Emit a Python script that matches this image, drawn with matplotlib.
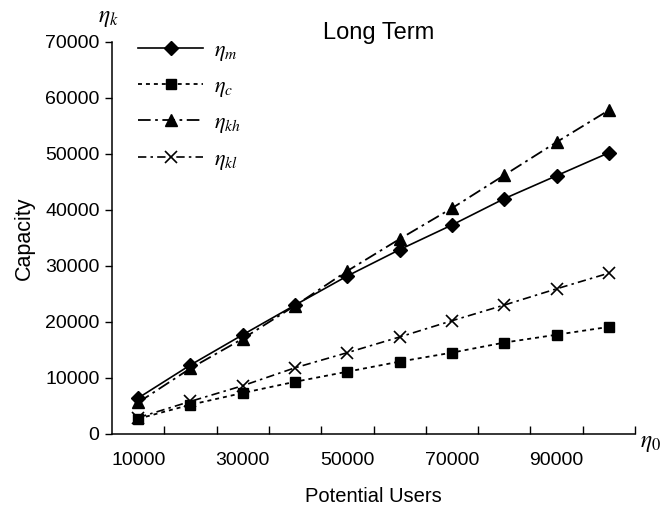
import numpy as np
import matplotlib.pyplot as plt

plt.rcParams['font.family'] = ['Liberation Sans', 'DejaVu Sans']
plt.rcParams['mathtext.fontset'] = 'stix'

# Data
users = [10000, 20000, 30000, 40000, 50000, 60000, 70000, 80000, 90000, 100000]
eta_m = [6400, 12300, 17700, 23000, 28200, 32900, 37300, 42000, 46100, 50200]
eta_c = [2700, 5200, 7300, 9300, 11100, 12900, 14500, 16300, 17700, 19100]
eta_kh = [5600, 11700, 17000, 22900, 29100, 34800, 40300, 46200, 52100, 57800]
eta_kl = [2900, 5800, 8600, 11800, 14500, 17300, 20200, 23000, 25900, 28700]

x = np.arange(len(users))

fig = plt.figure(figsize=(6.67, 5.11), dpi=100)
ax = fig.add_axes([0.168, 0.151, 0.784, 0.767])

ax.plot(x, eta_m, color='black', lw=1.2, marker='D', ms=7, label=r'$\eta_m$')
ax.plot(x, eta_c, color='black', lw=1.3, ls=(0, (2.2, 2.2)), marker='s', ms=7, label=r'$\eta_c$')
ax.plot(x, eta_kh, color='black', lw=1.3, ls=(0, (7, 2.5, 1.5, 2.5)), marker='^', ms=8, label=r'$\eta_{kh}$')
ax.plot(x, eta_kl, color='black', lw=1.2, ls=(0, (5, 2.5, 1.5, 2.5)), marker='x', ms=8.5, mew=1.2, label=r'$\eta_{kl}$')

ax.set_xlim(-0.5, 9.5)
ax.set_ylim(0, 70000)
ax.set_yticks(np.arange(0, 70001, 10000))
ax.tick_params(axis='y', direction='out', length=5, width=1, pad=4, labelsize=14)

# tick marks between categories, labels on every other category
ax.set_xticks(np.arange(0.5, 10, 1))
ax.set_xticklabels([])
ax.tick_params(axis='x', which='major', direction='in', length=6, width=1)
ax.set_xticks(x[::2], minor=True)
ax.set_xticklabels([str(u) for u in users[::2]], minor=True)
ax.tick_params(axis='x', which='minor', length=0, pad=13, labelsize=14)

for s in ['top', 'right']:
    ax.spines[s].set_visible(False)
for s in ['left', 'bottom']:
    ax.spines[s].set_linewidth(1.1)

ax.set_ylabel('Capacity', fontsize=15.5, labelpad=7)
ax.set_xlabel('Potential Users', fontsize=14.5, labelpad=13)
ax.set_title('Long Term', fontsize=17, x=0.51, y=0.985)

fig.text(0.162, 0.965, r'$\eta_k$', fontsize=17, ha='center', va='center')
fig.text(0.975, 0.133, r'$\eta_0$', fontsize=17, ha='center', va='center')

ax.legend(loc='upper left', frameon=False, fontsize=16, handlelength=2.9,
          handletextpad=0.5, labelspacing=0.6, bbox_to_anchor=(0.025, 1.04),
          borderaxespad=0.2)

fig.savefig('out.png', dpi=100)
